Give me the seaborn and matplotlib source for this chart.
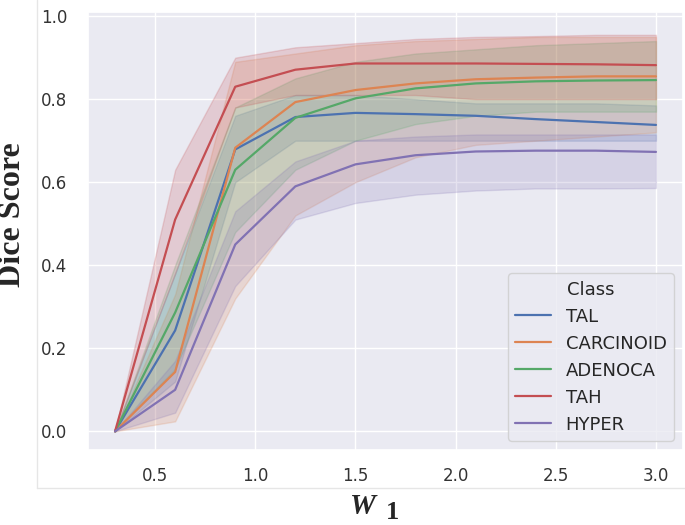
import numpy as np
import pandas as pd
import matplotlib
matplotlib.use("Agg")
import matplotlib.pyplot as plt
import seaborn as sns
from matplotlib.lines import Line2D

# ---- data ----
w1 = [0.3, 0.6, 0.9, 1.2, 1.5, 1.8, 2.1, 2.4, 2.7, 3.0]
classes = ["TAL", "CARCINOID", "ADENOCA", "TAH", "HYPER"]

tal_mid = [0, 0.243, 0.679, 0.757, 0.767, 0.764, 0.760, 0.752, 0.745, 0.738]
tal_lo  = [0, 0.12, 0.60, 0.70, 0.70, 0.70, 0.70, 0.70, 0.70, 0.70]
tal_hi  = [0, 0.38, 0.76, 0.81, 0.81, 0.80, 0.79, 0.79, 0.79, 0.785]

car_mid = [0, 0.143, 0.683, 0.793, 0.822, 0.838, 0.848, 0.852, 0.855, 0.855]
car_lo  = [0, 0.024, 0.32, 0.52, 0.60, 0.66, 0.69, 0.70, 0.71, 0.72]
car_hi  = [0, 0.33, 0.89, 0.91, 0.93, 0.94, 0.945, 0.95, 0.95, 0.95]

ade_mid = [0, 0.286, 0.630, 0.755, 0.802, 0.826, 0.838, 0.843, 0.845, 0.846]
ade_lo  = [0, 0.15, 0.48, 0.63, 0.70, 0.74, 0.76, 0.77, 0.77, 0.77]
ade_hi  = [0, 0.40, 0.78, 0.85, 0.89, 0.91, 0.92, 0.93, 0.935, 0.94]

tah_mid = [0, 0.510, 0.830, 0.871, 0.886, 0.886, 0.886, 0.885, 0.884, 0.882]
tah_lo  = [0, 0.38, 0.78, 0.81, 0.81, 0.81, 0.80, 0.80, 0.80, 0.80]
tah_hi  = [0, 0.63, 0.90, 0.925, 0.935, 0.945, 0.95, 0.952, 0.955, 0.955]

hyp_mid = [0, 0.100, 0.450, 0.590, 0.643, 0.665, 0.674, 0.676, 0.676, 0.673]
hyp_lo  = [0, 0.045, 0.35, 0.51, 0.55, 0.57, 0.58, 0.585, 0.585, 0.586]
hyp_hi  = [0, 0.17, 0.53, 0.65, 0.70, 0.71, 0.715, 0.715, 0.715, 0.715]

series = {
    "TAL": (tal_lo, tal_mid, tal_hi),
    "CARCINOID": (car_lo, car_mid, car_hi),
    "ADENOCA": (ade_lo, ade_mid, ade_hi),
    "TAH": (tah_lo, tah_mid, tah_hi),
    "HYPER": (hyp_lo, hyp_mid, hyp_hi),
}

rows = []
for cls in classes:
    for arr in series[cls]:
        for x, v in zip(w1, arr):
            rows.append({"W1": x, "Dice": v, "Class": cls})
df = pd.DataFrame(rows)

# ---- plot ----
sns.set_theme(style="darkgrid")
fig = plt.figure(figsize=(6.85, 5.25), dpi=100)
ax = fig.add_axes([88/685, 1 - 450/525, (683 - 88)/685, (450 - 12)/525])

sns.lineplot(data=df, x="W1", y="Dice", hue="Class", hue_order=classes,
             estimator="median", errorbar=("pi", 100), linewidth=1.6, ax=ax)

ax.set_xlim(0.165, 3.135)
ax.set_ylim(-0.045, 1.01)
ax.set_xticks([0.5, 1.0, 1.5, 2.0, 2.5, 3.0])
ax.set_yticks([0.0, 0.2, 0.4, 0.6, 0.8, 1.0])
ax.tick_params(axis="x", labelsize=12, pad=6, colors="#333333")
ax.tick_params(axis="y", labelsize=12, pad=9, colors="#333333")
ax.set_xlabel("")
ax.set_ylabel("")

leg = ax.legend(title="Class", loc="lower right", fontsize=13, title_fontsize=13,
                borderaxespad=0.5, handlelength=2.0)

# axis labels in bold serif
fig.text(13/685, 1 - 215/525, "Dice Score", rotation=90, ha="center", va="center",
         family="Liberation Serif", fontweight="bold", fontsize=23)
fig.text(350/685, 1 - 514/525, "W", ha="left", va="baseline",
         family="Liberation Serif", fontweight="bold", style="italic", fontsize=21)
fig.text(386/685, 1 - 519/525, "1", ha="left", va="baseline",
         family="Liberation Serif", fontweight="bold", fontsize=19)

# faint frame of the original figure
fig.add_artist(Line2D([37/685, 37/685], [1 - 488/525, 1.0], transform=fig.transFigure,
                      color="#e6e6e6", linewidth=1))
fig.add_artist(Line2D([37/685, 1.0], [1 - 488/525, 1 - 488/525], transform=fig.transFigure,
                      color="#e6e6e6", linewidth=1))

fig.savefig("out.png", dpi=100)
